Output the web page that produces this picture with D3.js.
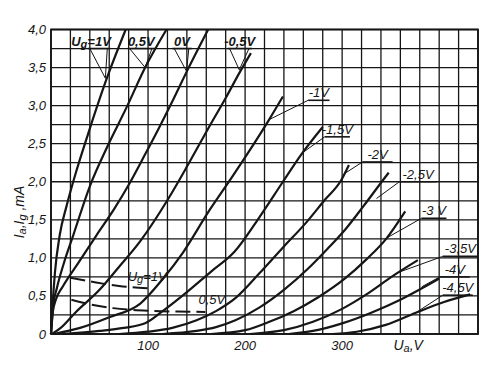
<!DOCTYPE html>
<html>
<head>
<meta charset="utf-8">
<script src="https://cdn.jsdelivr.net/npm/d3@7"></script>
<style>
  body { margin: 0; background: #fff; }
  text { font-family: "Liberation Sans", Arial, sans-serif; font-style: italic; fill: #161616; }
</style>
</head>
<body>
<svg id="chart" width="500" height="371"></svg>
<script>
// anode current Ia (mA) vs anode voltage Ua (V), one array per grid voltage
const iaP10 = [[0,0],[1.5,0.35],[4,0.8],[9,1.3],[16,1.68],[24,2.05],[38,2.62],[57,3.34],[77,4.0]];
const iaP05 = [[0,0],[2,0.35],[6,0.6],[13,0.92],[23,1.3],[40,1.94],[58,2.46],[78,2.98],[97,3.5],[119,4.0]];
const ia0   = [[0,0],[2,0.3],[5,0.45],[12,0.62],[28,0.93],[47,1.3],[65,1.64],[81,1.98],[97,2.36],[111,2.7],[126,3.08],[140,3.45],[162,4.0]];
const iaM05 = [[1,0],[10,0.08],[25,0.28],[50,0.58],[70,0.88],[92,1.22],[121,1.78],[141,2.22],[162,2.7],[180,3.1],[195,3.45],[206,3.69]];
const iaM10 = [[3,0],[30,0.08],[60,0.22],[92,0.4],[115,0.72],[136,1.07],[162,1.6],[187,2.07],[200,2.32],[224,2.8],[239,3.12]];
const iaM15 = [[12,0],[50,0.04],[75,0.08],[97,0.14],[115,0.3],[140,0.55],[165,0.82],[189,1.08],[214,1.52],[239,2.0],[258,2.36],[280,2.72]];
const iaM20 = [[70,0],[100,0.03],[125,0.08],[150,0.18],[170,0.3],[190,0.47],[215,0.8],[240,1.15],[262,1.45],[282,1.76],[299,2.02],[307,2.22]];
const iaM25 = [[115,0],[150,0.04],[170,0.09],[190,0.18],[215,0.35],[240,0.58],[265,0.86],[285,1.12],[303,1.37],[322,1.68],[342,2.02],[348,2.12]];
const iaM30 = [[165,0],[200,0.05],[225,0.16],[250,0.3],[275,0.48],[303,0.73],[325,0.98],[346,1.26],[365,1.61]];
const iaM35 = [[205,0],[240,0.05],[270,0.16],[300,0.33],[325,0.52],[352,0.76],[378,0.97]];
const iaM40 = [[245,0],[270,0.04],[300,0.14],[330,0.28],[360,0.45],[385,0.62],[400,0.73]];
const iaM45 = [[290,0],[315,0.03],[345,0.12],[376,0.28],[405,0.42],[432,0.52]];

// grid current Ig (mA) for Ug = 1V and 0.5V (dashed)
const igP10 = [[20,0.74],[45,0.68],[70,0.63],[100,0.6]];
const igP05 = [[21,0.45],[40,0.39],[64,0.34],[100,0.305],[130,0.295],[159,0.29]];

const anodeCurves = [iaP10, iaP05, ia0, iaM05, iaM10, iaM15, iaM20, iaM25, iaM30, iaM35, iaM40, iaM45];
const gridCurves = [igP10, igP05];

const yTicks = [0, 0.5, 1, 1.5, 2, 2.5, 3, 3.5, 4];
const yTickLabels = ["0", "0,5", "1,0", "1,5", "2,0", "2,5", "3,0", "3,5", "4,0"];
const xTicks = [100, 200, 300];
const xTickLabels = ["100", "200", "300"];

// curve labels: underline from u0 to u1 (V) at height ul (mA), leader to point "to"
const topLabels = [
  { sub: "g", text: "=1V", ul: 3.75, u0: 38, u1: 61, to: [56, 3.36] },
  { text: "0,5V", ul: 3.75, u0: 79, u1: 107, to: [97, 3.5] },
  { text: "0V", ul: 3.75, u0: 125, u1: 145, to: [139.7, 3.45] },
  { text: "-0,5V", ul: 3.75, u0: 182, u1: 207, to: [194, 3.47] }
];
const sideLabels = [
  { text: "-1V", ul: 3.07, u0: 265, u1: 287, to: [223.8, 2.81] },
  { text: "-1,5V", ul: 2.59, u0: 282, u1: 308, to: [258, 2.37] },
  { text: "-2V", ul: 2.26, u0: 321, u1: 352, to: [302.8, 2.11] },
  { text: "-2,5V", ul: 2.0, u0: 359, u1: 397.5, to: [335.4, 1.78] },
  { text: "-3 V", ul: 1.52, u0: 381.7, u1: 407.5, to: [345.7, 1.26] },
  { text: "-3,5V", ul: 1.02, u0: 403.7, u1: 440, to: [356, 0.8] },
  { text: "-4V", ul: 0.75, u0: 400.6, u1: 431.5, to: [382, 0.62] },
  { text: "-4,5V", ul: 0.51, u0: 403.7, u1: 434.6, to: [376, 0.28] }
];

const svg = d3.select("#chart");
const ink = "#161616";

const x = d3.scaleLinear().domain([0, 440]).range([51, 478]);
const y = d3.scaleLinear().domain([0, 4]).range([334, 29.5]);

// grid
const grid = svg.append("g").attr("stroke", ink).attr("stroke-width", 1.3);
grid.selectAll("line.v")
  .data(d3.range(0, 441, 20))
  .enter().append("line")
  .attr("x1", d => x(d)).attr("x2", d => x(d))
  .attr("y1", y(0)).attr("y2", y(4));
grid.selectAll("line.h")
  .data(d3.range(0, 17).map(i => i * 0.25))
  .enter().append("line")
  .attr("x1", x(0)).attr("x2", x(440))
  .attr("y1", d => y(d)).attr("y2", d => y(d));

svg.append("rect")
  .attr("x", x(0)).attr("y", y(4))
  .attr("width", x(440) - x(0)).attr("height", y(0) - y(4))
  .attr("fill", "none").attr("stroke", ink).attr("stroke-width", 1.8);

// axes labels
svg.selectAll("text.yt")
  .data(yTicks)
  .enter().append("text")
  .attr("x", 46).attr("y", d => y(d) + 4.5)
  .attr("text-anchor", "end").attr("font-size", 13)
  .text((d, i) => yTickLabels[i]);

svg.selectAll("text.xt")
  .data(xTicks)
  .enter().append("text")
  .attr("x", d => x(d)).attr("y", 350)
  .attr("text-anchor", "middle").attr("font-size", 13)
  .text((d, i) => xTickLabels[i]);

const xl = svg.append("text").attr("x", x(368)).attr("y", 350)
  .attr("text-anchor", "middle").attr("font-size", 14);
xl.append("tspan").text("U");
xl.append("tspan").attr("font-size", 11).attr("dy", 2).text("a");
xl.append("tspan").attr("dy", -2).text(",V");

const yl = svg.append("text")
  .attr("transform", "translate(24,212) rotate(-90)")
  .attr("text-anchor", "middle").attr("font-size", 14);
yl.append("tspan").text("I");
yl.append("tspan").attr("font-size", 11).attr("dy", 2).text("a");
yl.append("tspan").attr("dy", -2).text(",I");
yl.append("tspan").attr("font-size", 11).attr("dy", 2).text("g");
yl.append("tspan").attr("dy", -2).text(" ,mA");

// curves
const line = d3.line()
  .x(d => x(d[0])).y(d => y(d[1]))
  .curve(d3.curveMonotoneX);

svg.append("g").selectAll("path")
  .data(anodeCurves)
  .enter().append("path")
  .attr("d", line)
  .attr("fill", "none").attr("stroke", ink).attr("stroke-width", 2.2);

svg.append("g").selectAll("path")
  .data(gridCurves)
  .enter().append("path")
  .attr("d", line)
  .attr("fill", "none").attr("stroke", ink).attr("stroke-width", 2)
  .attr("stroke-dasharray", "15,6");

// curve labels
const lab = svg.append("g");
topLabels.forEach(l => {
  const t = lab.append("text")
    .attr("x", x((l.u0 + l.u1) / 2) - (l.sub ? 8 : 0))
    .attr("y", y(l.ul) - 3)
    .attr("text-anchor", "middle").attr("font-size", 13).attr("font-weight", "bold");
  if (l.sub) {
    t.append("tspan").text("U");
    t.append("tspan").attr("font-size", 11).attr("dy", 2).text(l.sub);
    t.append("tspan").attr("dy", -2).text(l.text);
  } else {
    t.text(l.text);
  }
  lab.append("line")
    .attr("x1", x(l.u0)).attr("x2", x(l.u1))
    .attr("y1", y(l.ul)).attr("y2", y(l.ul))
    .attr("stroke", ink).attr("stroke-width", 1.6);
  [l.u0 + 2, l.u1 - 3].forEach(u => {
    lab.append("line")
      .attr("x1", x(u)).attr("y1", y(l.ul))
      .attr("x2", x(l.to[0])).attr("y2", y(l.to[1]))
      .attr("stroke", ink).attr("stroke-width", 1);
  });
});

sideLabels.forEach(l => {
  lab.append("text")
    .attr("x", x((l.u0 + l.u1) / 2)).attr("y", y(l.ul) - 3)
    .attr("text-anchor", "middle").attr("font-size", 13)
    .text(l.text);
  lab.append("line")
    .attr("x1", x(l.u0)).attr("x2", x(l.u1))
    .attr("y1", y(l.ul)).attr("y2", y(l.ul))
    .attr("stroke", ink).attr("stroke-width", 1.6);
  lab.append("line")
    .attr("x1", x(l.u0)).attr("y1", y(l.ul))
    .attr("x2", x(l.to[0])).attr("y2", y(l.to[1]))
    .attr("stroke", ink).attr("stroke-width", 1);
});

// grid current labels
const g1 = svg.append("text").attr("x", x(79)).attr("y", y(0.7)).attr("font-size", 13);
g1.append("tspan").text("U");
g1.append("tspan").attr("font-size", 11).attr("dy", 2).text("g");
g1.append("tspan").attr("dy", -2).text("=1V");
svg.append("text").attr("x", x(152)).attr("y", y(0.39)).attr("font-size", 13).text("0,5V");
</script>
</body>
</html>
